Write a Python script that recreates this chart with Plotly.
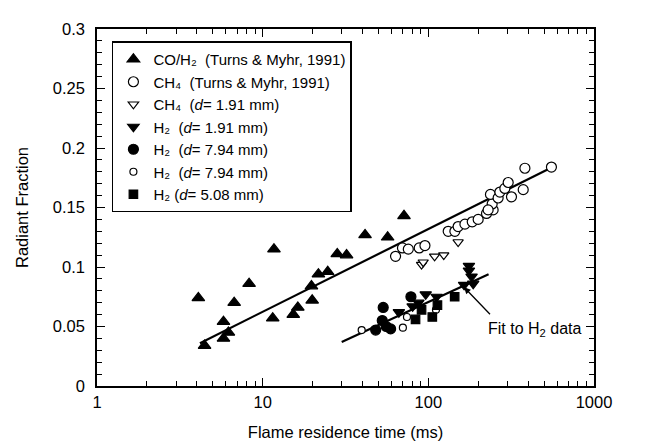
import numpy as np
import plotly.graph_objects as go

# CO/H2 (Turns & Myhr, 1991)
coh2_t = [4.09, 4.46, 5.80, 5.80, 6.21, 6.73, 8.28, 11.7, 11.5, 15.3, 16.3, 19.9,
          19.7, 21.7, 24.7, 28.2, 32.1, 41.5, 56.8, 71.3]
coh2_rf = [0.074, 0.034, 0.054, 0.040, 0.045, 0.070, 0.086, 0.115, 0.057, 0.060, 0.066, 0.072,
           0.084, 0.094, 0.096, 0.111, 0.110, 0.127, 0.125, 0.143]

# CH4 (Turns & Myhr, 1991)
ch4tm_t = [63.4, 69.8, 75.7, 88.1, 95.4, 131.8, 144.6, 151.3, 166.3, 184.1, 199.9, 224.5,
           246.1, 242.8, 237.1, 263.8, 270.3, 289.7, 303.4, 317.6, 373.9, 382.8, 553.4, 229.6]
ch4tm_rf = [0.109, 0.116, 0.115, 0.116, 0.118, 0.130, 0.130, 0.134, 0.136, 0.138, 0.140, 0.145,
            0.148, 0.153, 0.161, 0.158, 0.163, 0.166, 0.171, 0.159, 0.165, 0.183, 0.184, 0.148]

# CH4 (d = 1.91 mm)
ch4_t = [91.0, 93.1, 109.1, 123.9, 151.3]
ch4_rf = [0.102, 0.104, 0.109, 0.110, 0.121]

# H2 (d = 1.91 mm)
h2a_t = [66.4, 80.4, 87.1, 96.4, 112.2, 175.8, 175.8, 182.4, 164.4, 186.6]
h2a_rf = [0.062, 0.067, 0.070, 0.077, 0.075, 0.101, 0.097, 0.092, 0.085, 0.086]

# H2 (d = 7.94 mm), filled
h2b_t = [78.5, 53.4, 52.7, 55.7, 48.1, 59.2]
h2b_rf = [0.075, 0.066, 0.055, 0.050, 0.047, 0.048]

# H2 (d = 7.94 mm), open
h2c_t = [39.6, 70.2, 74.3, 111.2]
h2c_rf = [0.047, 0.049, 0.058, 0.064]

# H2 (d = 5.08 mm)
h2d_t = [83.7, 91.0, 105.7, 113.5, 144.2]
h2d_rf = [0.056, 0.064, 0.058, 0.068, 0.075]

# fit lines
fit_all_t = [4.18, 543.0]
fit_all_rf = [0.036, 0.183]
fit_h2_t = [30.0, 231.0]
fit_h2_rf = [0.037, 0.094]

FONT = "Liberation Sans, Arial, Helvetica, sans-serif"
BLK = "#000000"

fig = go.Figure()

fig.add_trace(go.Scatter(x=fit_all_t, y=fit_all_rf, mode="lines",
                         line=dict(color=BLK, width=2.2), showlegend=False))
fig.add_trace(go.Scatter(x=fit_h2_t, y=fit_h2_rf, mode="lines",
                         line=dict(color=BLK, width=2.2), showlegend=False))

series = [
    ("CO/H₂  (Turns & Myhr, 1991)", coh2_t, coh2_rf, "triangle-up", 11, BLK),
    ("CH₄  (Turns & Myhr, 1991)", ch4tm_t, ch4tm_rf, "circle", 10, "white"),
    ("CH₄  (<i>d</i>= 1.91 mm)", ch4_t, ch4_rf, "triangle-down", 9, "white"),
    ("H₂  (<i>d</i>= 1.91 mm)", h2a_t, h2a_rf, "triangle-down", 10, BLK),
    ("H₂  (<i>d</i>= 7.94 mm)", h2b_t, h2b_rf, "circle", 10, BLK),
    ("H₂  (<i>d</i>= 7.94 mm)", h2c_t, h2c_rf, "circle", 7, "white"),
    ("H₂ (<i>d</i>= 5.08 mm)", h2d_t, h2d_rf, "square", 8.5, BLK),
]
for name, xs, ys, sym, size, fill in series:
    fig.add_trace(go.Scatter(
        x=xs, y=ys, mode="markers", name=name,
        marker=dict(symbol=sym, size=size, color=fill,
                    line=dict(color=BLK, width=1.2)),
    ))

# "Fit to H2 data" arrow and label
fig.add_annotation(
    x=np.log10(164.4), y=0.083, xref="x", yref="y",
    ax=np.log10(240.4), ay=0.059, axref="x", ayref="y",
    text="", showarrow=True, arrowhead=2, arrowsize=1, arrowwidth=1.3, arrowcolor=BLK,
)
fig.add_annotation(
    x=np.log10(222.0), y=0.057, xref="x", yref="y", xanchor="left", yanchor="top",
    text="Fit to H<sub>2</sub> data", showarrow=False, font=dict(size=16, color=BLK),
)

axis_common = dict(
    showline=True, linecolor=BLK, linewidth=1.5, mirror="ticks",
    ticks="inside", tickcolor=BLK, ticklen=8, tickwidth=1,
    showgrid=False, zeroline=False,
    tickfont=dict(size=16.5, color=BLK),
)

fig.update_layout(
    width=645, height=443,
    paper_bgcolor="white", plot_bgcolor="white",
    font=dict(family=FONT, size=16.5, color=BLK),
    margin=dict(l=89, r=59, t=18, b=55),
    xaxis=dict(
        type="log", range=[0, 3], dtick=1,
        title=dict(text="Flame residence time (ms)", standoff=17, font=dict(size=16.5)),
        minor=dict(ticks="inside", ticklen=5, tickcolor=BLK, dtick="D1", showgrid=False),
        **axis_common,
    ),
    yaxis=dict(
        range=[0, 0.3], dtick=0.05,
        title=dict(text="Radiant Fraction", standoff=20, font=dict(size=16.5)),
        minor=dict(ticks="inside", ticklen=5, tickcolor=BLK, dtick=0.01, showgrid=False),
        ticklabelstandoff=7,
        **axis_common,
    ),
    legend=dict(
        x=0.03, y=0.965, xanchor="left", yanchor="top",
        bordercolor=BLK, borderwidth=1.5, bgcolor="white",
        font=dict(size=15, color=BLK), itemwidth=30, tracegroupgap=0,
    ),
    showlegend=True,
)

fig.write_html("out.html")
